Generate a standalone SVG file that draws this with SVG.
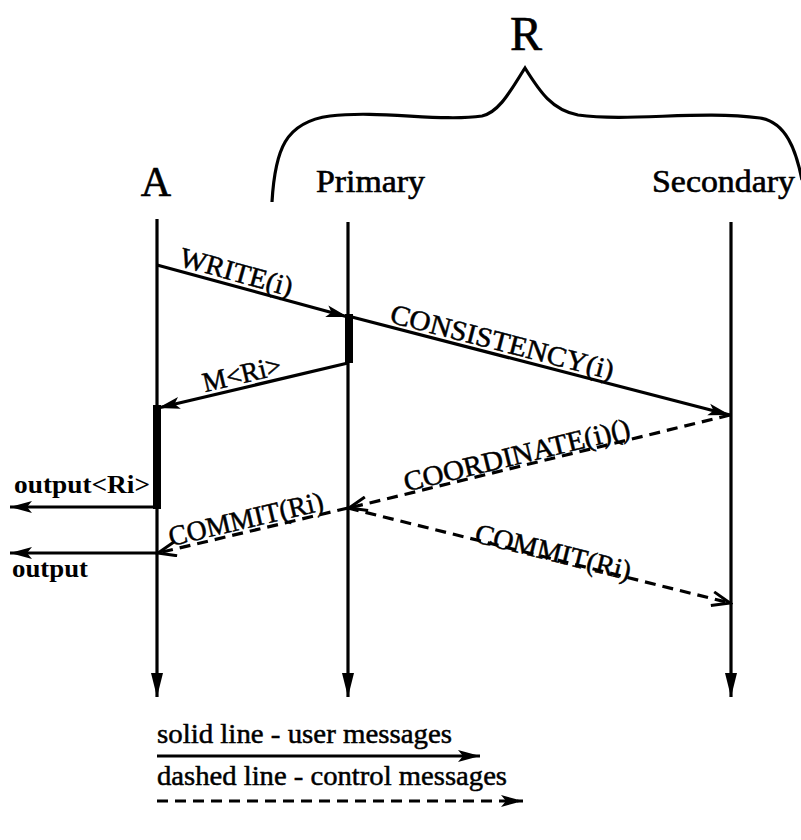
<svg xmlns="http://www.w3.org/2000/svg" width="801" height="840" viewBox="0 0 801 840">
  <style>
    .lbl { font-family: "Liberation Serif", "Times New Roman", serif; font-size: 28px; fill: #000; stroke: #000; stroke-width: 0.5; }
    .head { font-family: "Liberation Serif", "Times New Roman", serif; fill: #000; stroke: #000; stroke-width: 0.6; }
    .out { font-family: "Liberation Serif", "Times New Roman", serif; font-size: 25px; font-weight: bold; fill: #000; }
    .life { stroke: #000; stroke-width: 3.2; fill: none; }
    .msg { stroke: #000; stroke-width: 3.2; fill: none; }
    .ctl { stroke: #000; stroke-width: 3.2; fill: none; stroke-dasharray: 11 7; }
    .bar { fill: #000; }
  </style>
  <defs>
    <marker id="solidHead" markerUnits="userSpaceOnUse" markerWidth="24" markerHeight="14" refX="22" refY="7" orient="auto">
      <path d="M0,1 L22,7 L0,13 L5,7 z" fill="#000"/>
    </marker>
    <marker id="openHead" markerUnits="userSpaceOnUse" markerWidth="24" markerHeight="16" refX="21" refY="8" orient="auto">
      <path d="M3,1 L21,8 L3,15" fill="none" stroke="#000" stroke-width="3"/>
    </marker>
    <marker id="lifeHead" markerUnits="userSpaceOnUse" markerWidth="16" markerHeight="26" refX="8" refY="24" orient="0">
      <path d="M2,0 L14,0 L8,24 z" fill="#000"/>
    </marker>
  </defs>

  <rect width="801" height="840" fill="#fff"/>

  <!-- group bracket over the replicas -->
  <g id="R">
    <path class="life" d="M272,202 C275,150 285,122 330,116 C380,110 440,122 482,116 C500,112 512,88 525,68 C540,92 552,110 578,115 C630,122 700,110 760,118 C786,122 796,150 802,180"/>
    <text class="head" x="526" y="50" font-size="48" text-anchor="middle">R</text>
  </g>

  <!-- lifelines -->
  <g id="A">
    <text class="head" x="156" y="196" font-size="42" text-anchor="middle">A</text>
    <line class="life" x1="157" y1="219" x2="157" y2="697" marker-end="url(#lifeHead)"/>
    <rect class="bar" x="153" y="405" width="8" height="104"/>
  </g>
  <g id="Primary">
    <text class="head" x="316" y="192" font-size="31" textLength="109" lengthAdjust="spacingAndGlyphs">Primary</text>
    <line class="life" x1="348" y1="222" x2="348" y2="697" marker-end="url(#lifeHead)"/>
    <rect class="bar" x="345" y="314" width="8" height="49"/>
  </g>
  <g id="Secondary">
    <text class="head" x="652" y="192" font-size="32" textLength="143" lengthAdjust="spacingAndGlyphs">Secondary</text>
    <line class="life" x1="731" y1="222" x2="731" y2="697" marker-end="url(#lifeHead)"/>
  </g>

  <!-- messages -->
  <g id="connectors">
    <line class="msg" x1="157" y1="265" x2="348" y2="317" marker-end="url(#solidHead)"/>
    <line class="msg" x1="348" y1="316" x2="730" y2="415" marker-end="url(#solidHead)"/>
    <line class="msg" x1="348" y1="363" x2="158" y2="408" marker-end="url(#solidHead)"/>
    <line class="msg" x1="157" y1="507" x2="10" y2="507" marker-end="url(#solidHead)"/>
    <line class="ctl" x1="730" y1="415" x2="349" y2="508" marker-end="url(#openHead)"/>
    <line class="ctl" x1="348" y1="508" x2="158" y2="553" marker-end="url(#openHead)"/>
    <line class="ctl" x1="348" y1="508" x2="730" y2="603" marker-end="url(#openHead)"/>
    <line class="msg" x1="157" y1="553" x2="10" y2="553" marker-end="url(#solidHead)"/>
  </g>

  <!-- message labels -->
  <g id="labels">
    <text class="lbl" text-anchor="middle" transform="translate(234,281) rotate(15.5)" textLength="116" lengthAdjust="spacingAndGlyphs">WRITE(i)</text>
    <text class="lbl" text-anchor="middle" transform="translate(500,351) rotate(14.5)" textLength="230" lengthAdjust="spacingAndGlyphs">CONSISTENCY(i)</text>
    <text class="lbl" text-anchor="middle" transform="translate(244,383) rotate(-13.3)" textLength="80" lengthAdjust="spacingAndGlyphs">M&lt;Ri&gt;</text>
    <text class="lbl" text-anchor="middle" transform="translate(519,464) rotate(-13.7)" textLength="232" lengthAdjust="spacingAndGlyphs">COORDINATE(i)()</text>
    <text class="lbl" text-anchor="middle" transform="translate(248,528) rotate(-13.3)" textLength="158" lengthAdjust="spacingAndGlyphs">COMMIT(Ri)</text>
    <text class="lbl" text-anchor="middle" transform="translate(551,561) rotate(14)" textLength="160" lengthAdjust="spacingAndGlyphs">COMMIT(Ri)</text>
    <text class="out" x="14" y="493" textLength="136" lengthAdjust="spacingAndGlyphs">output&lt;Ri&gt;</text>
    <text class="out" x="12" y="577" textLength="76" lengthAdjust="spacingAndGlyphs">output</text>
  </g>

  <!-- key -->
  <g id="legend">
    <text class="lbl" x="157" y="743" textLength="295" lengthAdjust="spacingAndGlyphs">solid line - user messages</text>
    <line class="msg" x1="157" y1="756" x2="480" y2="756" marker-end="url(#solidHead)"/>
    <text class="lbl" x="157" y="785" textLength="350" lengthAdjust="spacingAndGlyphs">dashed line - control messages</text>
    <line class="ctl" x1="157" y1="801" x2="523" y2="801" marker-end="url(#solidHead)"/>
  </g>
</svg>
